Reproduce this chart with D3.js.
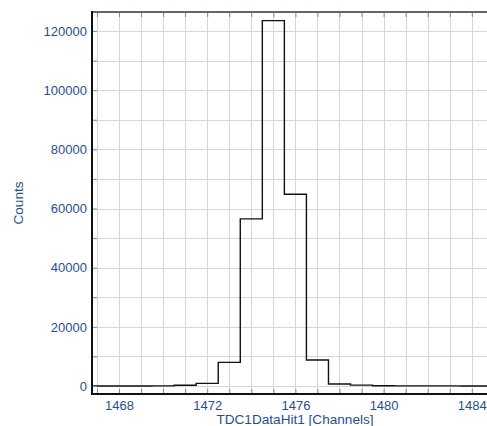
<!DOCTYPE html>
<html>
<head>
<meta charset="utf-8">
<script src="https://cdn.jsdelivr.net/npm/d3@7"></script>
<style>
	body { margin: 0; background: #fff; }
	svg { display: block; font-family: Arial, "Liberation Sans", sans-serif; }
</style>
</head>
<body>
<div id="chart"></div>
<script>
// histogram bins (channel centres) and counts
const channels = [1466, 1467, 1468, 1469, 1470, 1471, 1472, 1473, 1474, 1475, 1476, 1477, 1478, 1479, 1480, 1481, 1482, 1483, 1484, 1485]
const counts = [0, 0, 0, 20, 60, 250, 900, 8000, 56500, 123500, 64800, 8800, 700, 300, 100, 60, 40, 30, 20, 10]

const xTickLabels = [1468, 1472, 1476, 1480, 1484]
const yTickLabels = [0, 20000, 40000, 60000, 80000, 100000, 120000]

const width = 487
const height = 426
const margin = { top: 12, right: 0, bottom: 32, left: 92 }
const textColor = '#1f4ea0'
const tickColor = '#6d8cc2'

const svg = d3.select('#chart').append('svg')
	.attr('width', width)
	.attr('height', height)

const x = d3.scaleLinear()
	.domain([1466.775, 1484.69])
	.range([margin.left, width - margin.right])

const y = d3.scaleLinear()
	.domain([-2700, 126420])
	.range([height - margin.bottom, margin.top])

const xMinor = d3.range(1467, 1485)
const yMinor = d3.range(0, 126000, 10000)

// grid
svg.append('g')
	.selectAll('line')
	.data(xMinor)
	.join('line')
		.attr('x1', d => Math.round(x(d)) + 0.5)
		.attr('x2', d => Math.round(x(d)) + 0.5)
		.attr('y1', margin.top)
		.attr('y2', height - margin.bottom)
		.attr('stroke', '#d6d6d6')

svg.append('g')
	.selectAll('line')
	.data(yMinor)
	.join('line')
		.attr('x1', margin.left)
		.attr('x2', width - margin.right)
		.attr('y1', d => Math.round(y(d)) + 0.5)
		.attr('y2', d => Math.round(y(d)) + 0.5)
		.attr('stroke', '#d6d6d6')

// histogram as a step line
svg.append('clipPath')
	.attr('id', 'plot-clip')
  .append('rect')
	.attr('x', margin.left)
	.attr('y', margin.top)
	.attr('width', width - margin.left - margin.right)
	.attr('height', height - margin.top - margin.bottom)

const steps = channels.map((c, i) => [c - 0.5, counts[i]])
steps.push([channels[channels.length - 1] + 0.5, counts[counts.length - 1]])

const line = d3.line()
	.x(d => x(d[0]))
	.y(d => y(d[1]))
	.curve(d3.curveStepAfter)

svg.append('path')
	.datum(steps)
	.attr('clip-path', 'url(#plot-clip)')
	.attr('fill', 'none')
	.attr('stroke', '#111')
	.attr('stroke-width', 1.4)
	.attr('d', line)

// axes
const xAxis = d3.axisBottom(x)
	.tickValues(xMinor)
	.tickSize(-5)
	.tickPadding(7)
	.tickFormat(d => xTickLabels.includes(d) ? d : '')

const xTop = d3.axisTop(x)
	.tickValues(xMinor)
	.tickSize(-5)
	.tickFormat('')

const yAxis = d3.axisLeft(y)
	.tickValues(yMinor)
	.tickSize(-5)
	.tickPadding(5)
	.tickFormat(d => yTickLabels.includes(d) ? d : '')

function styleAxis(g) {
	g.select('.domain').remove()
	g.selectAll('.tick line').attr('stroke', tickColor)
	g.selectAll('.tick text')
		.attr('fill', textColor)
		.style('font-size', '13px')
		.style('font-family', 'Arial, "Liberation Sans", sans-serif')
}

svg.append('g')
	.attr('transform', `translate(0,${height - margin.bottom})`)
	.call(xAxis)
	.call(styleAxis)

svg.append('g')
	.attr('transform', `translate(0,${margin.top})`)
	.call(xTop)
	.call(styleAxis)

svg.append('g')
	.attr('transform', `translate(${margin.left},0)`)
	.call(yAxis)
	.call(styleAxis)

// frame lines
svg.append('line')
	.attr('x1', margin.left).attr('x2', width)
	.attr('y1', margin.top).attr('y2', margin.top)
	.attr('stroke', '#666').attr('stroke-width', 2)

svg.append('line')
	.attr('x1', margin.left).attr('x2', width)
	.attr('y1', height - margin.bottom).attr('y2', height - margin.bottom)
	.attr('stroke', '#111').attr('stroke-width', 2)

svg.append('line')
	.attr('x1', margin.left).attr('x2', margin.left)
	.attr('y1', margin.top - 1).attr('y2', height - margin.bottom + 1)
	.attr('stroke', '#111').attr('stroke-width', 2)

// axis titles
svg.append('text')
	.attr('x', 295)
	.attr('y', 424)
	.attr('text-anchor', 'middle')
	.attr('fill', textColor)
	.style('font-size', '13.6px')
	.text('TDC1DataHit1 [Channels]')

svg.append('text')
	.attr('transform', 'translate(23,203) rotate(-90)')
	.attr('text-anchor', 'middle')
	.attr('fill', textColor)
	.style('font-size', '13.6px')
	.text('Counts')
</script>
</body>
</html>
